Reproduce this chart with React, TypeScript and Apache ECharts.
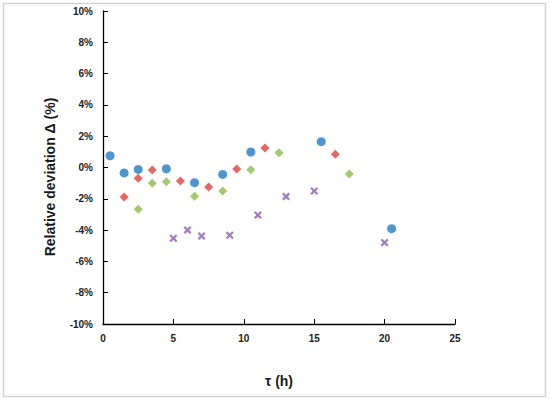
import React, { useEffect, useRef } from "react";
import * as echarts from "echarts";

const blueX = [0.5, 1.5, 2.5, 4.5, 6.5, 8.5, 10.5, 15.5, 20.5];
const blueY = [0.75, -0.35, -0.12, -0.08, -0.97, -0.44, 0.99, 1.65, -3.91];
const redX = [1.5, 2.5, 3.5, 5.5, 7.5, 9.5, 11.5, 16.5];
const redY = [-1.88, -0.69, -0.16, -0.86, -1.25, -0.1, 1.25, 0.84];
const greenX = [2.5, 3.5, 4.5, 6.5, 8.5, 10.5, 12.5, 17.5];
const greenY = [-2.67, -1.01, -0.91, -1.84, -1.5, -0.14, 0.95, -0.42];
const purpleX = [5, 6, 7, 9, 11, 13, 15, 20];
const purpleY = [-4.52, -4.0, -4.38, -4.33, -3.04, -1.86, -1.5, -4.8];

const yTitle = "Relative deviation Δ (%)";
const xTitle = "τ (h)";

const zip = (xs: number[], ys: number[]) => xs.map((x, i) => [x, ys[i]]);

const CROSS =
  "path://M2,0 L5,3 L8,0 L10,2 L7,5 L10,8 L8,10 L5,7 L2,10 L0,8 L3,5 L0,2 Z";

export default function App() {
  const ref = useRef<HTMLDivElement>(null);
  useEffect(() => {
    if (!ref.current) return;
    const chart = echarts.init(ref.current, undefined, { renderer: "svg" });
    const font = "Arial, 'Liberation Sans', sans-serif";
    chart.setOption({
      animation: false,
      backgroundColor: "#ffffff",
      graphic: [
        {
          type: "rect",
          shape: { x: 3.5, y: 3.5, width: 542, height: 393 },
          style: { fill: "none", stroke: "#d4d4d4", lineWidth: 1.5 },
          silent: true,
        },
        {
          type: "text",
          x: 50,
          y: 177,
          rotation: Math.PI / 2,
          style: {
            text: yTitle,
            fontFamily: font,
            fontWeight: "bold",
            fontSize: 14,
            fill: "#1a1a1a",
            align: "center",
            verticalAlign: "middle",
          },
          silent: true,
        },
      ],
      grid: { left: 103, top: 11, width: 352, height: 313 },
      xAxis: {
        type: "value",
        min: 0,
        max: 25,
        interval: 5,
        name: xTitle,
        nameLocation: "middle",
        nameGap: 50,
        nameTextStyle: { fontFamily: font, fontWeight: "bold", fontSize: 14, color: "#1a1a1a" },
        axisLine: { show: true, onZero: false, lineStyle: { color: "#000", width: 1.3 } },
        axisTick: { show: true, inside: true, length: 5, lineStyle: { color: "#000" } },
        axisLabel: { fontFamily: font, fontWeight: "bold", fontSize: 10, color: "#222", margin: 9 },
        splitLine: { show: false },
      },
      yAxis: {
        type: "value",
        min: -10,
        max: 10,
        interval: 2,
        axisLine: { show: true, onZero: false, lineStyle: { color: "#000", width: 1.3 } },
        axisTick: { show: true, inside: true, length: 5, lineStyle: { color: "#000" } },
        axisLabel: {
          fontFamily: font,
          fontWeight: "bold",
          fontSize: 10,
          color: "#222",
          margin: 10,
          formatter: (v: number) => `${v}%`,
        },
        splitLine: { show: false },
      },
      series: [
        {
          type: "scatter",
          data: zip(blueX, blueY),
          symbol: "circle",
          symbolSize: 9,
          itemStyle: { color: "#1f7cc4" },
        },
        {
          type: "scatter",
          data: zip(redX, redY),
          symbol: "diamond",
          symbolSize: 9,
          itemStyle: { color: "#e0403c" },
        },
        {
          type: "scatter",
          data: zip(greenX, greenY),
          symbol: "diamond",
          symbolSize: 9,
          itemStyle: { color: "#8bbd48" },
        },
        {
          type: "scatter",
          data: zip(purpleX, purpleY),
          symbol: CROSS,
          symbolSize: 8,
          itemStyle: { color: "#8a5cb0" },
        },
      ],
    });
    return () => chart.dispose();
  }, []);
  return (
    <div
      ref={ref}
      style={{ position: "absolute", left: 0, top: 0, width: 550, height: 401 }}
    />
  );
}
